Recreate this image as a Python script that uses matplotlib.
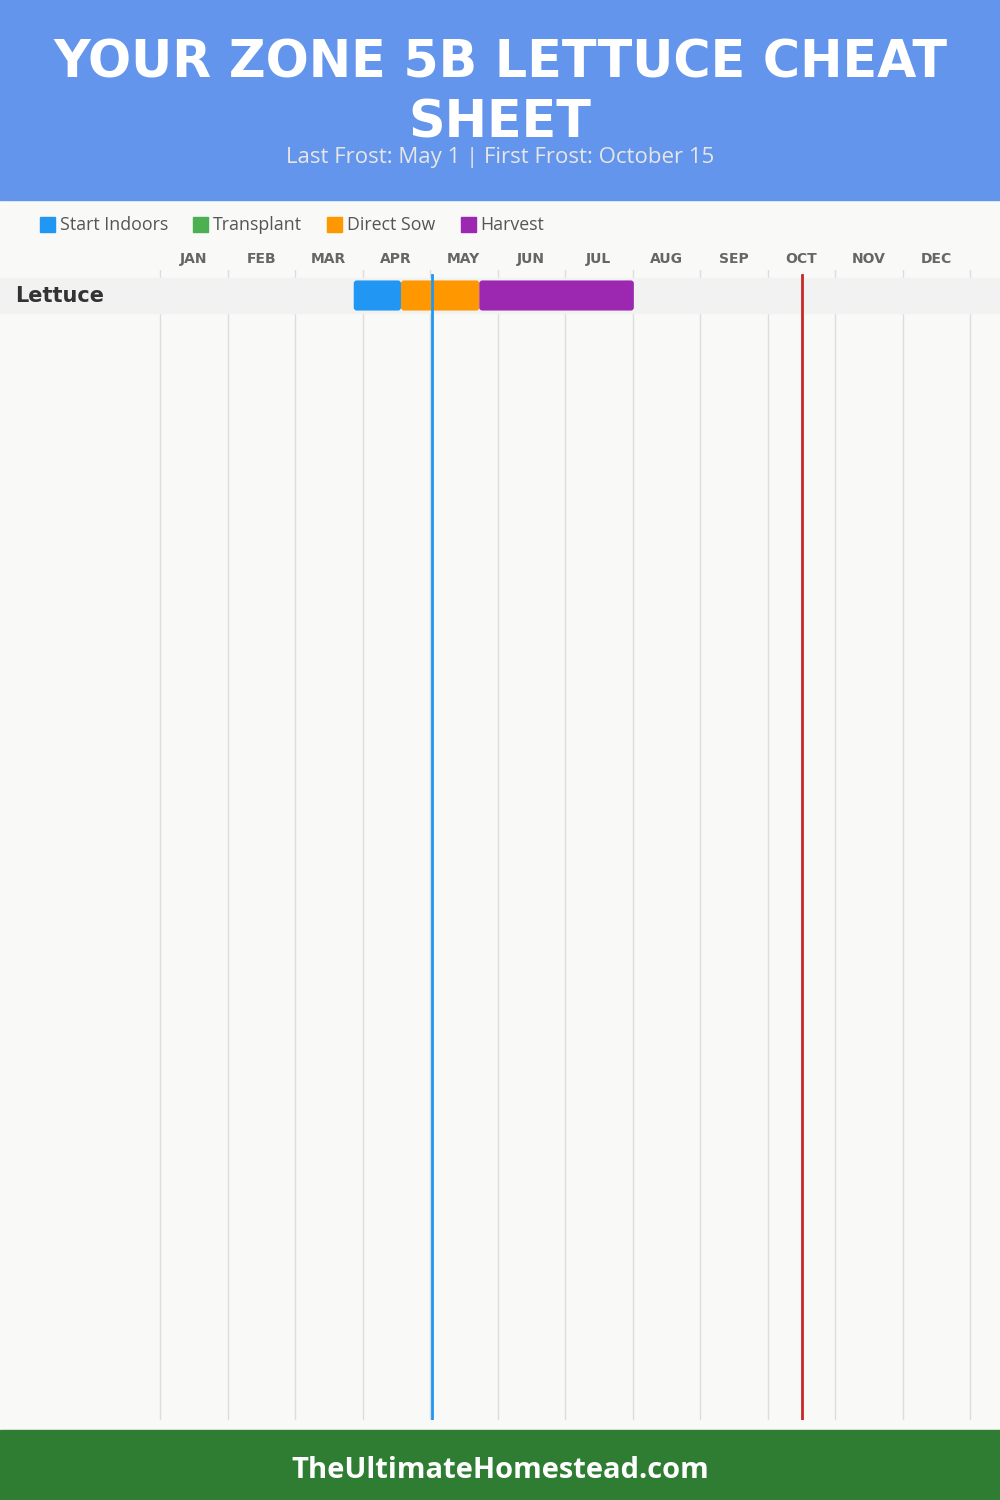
import matplotlib
matplotlib.use("Agg")
import matplotlib.pyplot as plt
from matplotlib.patches import FancyBboxPatch, Rectangle

# data
months = ["JAN", "FEB", "MAR", "APR", "MAY", "JUN", "JUL", "AUG", "SEP", "OCT", "NOV", "DEC"]
crops = ["Lettuce"]
# (start, end) in months from Jan 1
start_indoors = [(2.87, 3.57)]
transplant = [None]
direct_sow = [(3.57, 4.73)]
harvest = [(4.73, 7.02)]
last_frost = 4.03
first_frost = 9.51

stages = ["Start Indoors", "Transplant", "Direct Sow", "Harvest"]
stage_colors = ["#2196F3", "#4CAF50", "#FF9800", "#9C27B0"]

W, H = 1000, 1500
fig = plt.figure(figsize=(10, 15), dpi=100)
fig.patch.set_facecolor("#f9f9f8")

def px_axes(x0, y0, x1, y1):
    # axes placed in pixel coords (top-left origin)
    return fig.add_axes([x0 / W, 1 - y1 / H, (x1 - x0) / W, (y1 - y0) / H])

plt.rcParams["font.family"] = ["DejaVu Sans"]

# header
fig.patches.append(Rectangle((0, 1 - 200 / H), 1, 200 / H, transform=fig.transFigure,
                             color="#6495ED", zorder=0))
fig.text(0.5, 1 - 63 / H, "YOUR ZONE 5B LETTUCE CHEAT", ha="center", va="center",
         color="white", fontsize=36.5, fontweight="heavy")
fig.text(0.5, 1 - 123 / H, "SHEET", ha="center", va="center",
         color="white", fontsize=36.5, fontweight="heavy")
fig.text(0.5, 1 - 157 / H, "Last Frost: May 1 | First Frost: October 15", ha="center",
         va="center", color="#e6e6e6", fontsize=16, family="Open Sans")

# footer
fig.patches.append(Rectangle((0, 0), 1, 70 / H, transform=fig.transFigure,
                             color="#2E7D32", zorder=0))
fig.text(0.5, 30 / H, "TheUltimateHomestead.com", ha="center", va="center",
         color="white", fontsize=21, fontweight="bold", family="Open Sans")

# legend
lx = 40
for name, col in zip(stages, stage_colors):
    fig.patches.append(Rectangle((lx / W, 1 - 232 / H), 15 / W, 15 / H,
                                 transform=fig.transFigure, color=col))
    t = fig.text((lx + 20) / W, 1 - 225 / H, name, ha="left", va="center",
                 color="#555555", fontsize=12.8, family="Open Sans")
    fig.canvas.draw()
    bb = t.get_window_extent()
    lx = bb.x1 + 25

# chart
px_per_month = 67.5
row_px = 35
ax = px_axes(0, 270, 1000, 1420)
ax.set_facecolor("none")
ax.set_xlim(-160 / px_per_month, (1000 - 160) / px_per_month)
ax.set_ylim((1420 - 295.5) / row_px, -(295.5 - 270) / row_px)
ax.axis("off")

for m in range(13):
    ax.axvline(m, color="#dddddd", lw=1, zorder=1)

for i, crop in enumerate(crops):
    ax.add_patch(Rectangle((ax.get_xlim()[0], i - 0.5), 20, 1.0, color="#f2f2f2", zorder=2))
    ax.text(-160 / px_per_month + 15 / px_per_month, i, crop, ha="left", va="center",
            fontsize=15, fontweight="bold", color="#333333")
    for spans, col in zip([start_indoors, transplant, direct_sow, harvest], stage_colors):
        sp = spans[i]
        if sp is None:
            continue
        ax.add_patch(FancyBboxPatch((sp[0], i - 0.43), sp[1] - sp[0], 0.86,
                                    boxstyle="round,pad=0,rounding_size=0.045",
                                    mutation_aspect=px_per_month / row_px,
                                    fc=col, ec="none", zorder=3))

ax.plot([last_frost, last_frost], [-0.58, ax.get_ylim()[0]], color="#2196F3", lw=2, zorder=4)
ax.plot([first_frost, first_frost], [-0.58, ax.get_ylim()[0]], color="#C62828", lw=2, zorder=4)

# month labels
for m, name in enumerate(months):
    fig.text((160 + (m + 0.5) * px_per_month) / W, 1 - 259 / H, name, ha="center",
             va="center", fontsize=10, fontweight="bold", color="#666666")

fig.savefig("out.png", dpi=100, facecolor=fig.get_facecolor())
